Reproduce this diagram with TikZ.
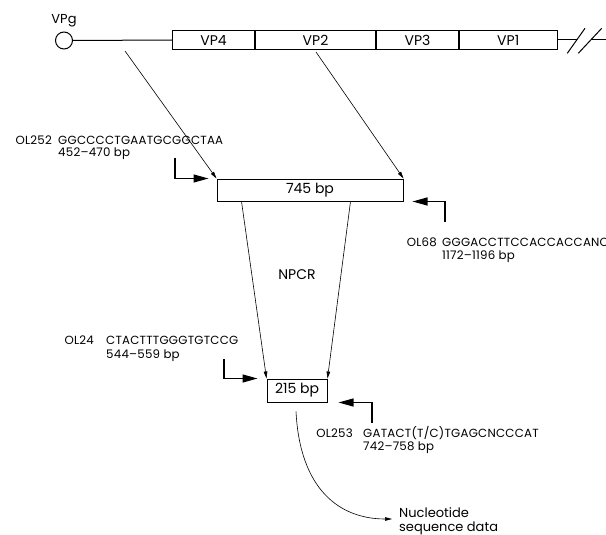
\documentclass[tikz,border=0pt]{standalone}
\usepackage{fontspec}
\setmainfont{Poppins}
\newfontfamily\seqfont{Poppins}[LetterSpace=2]
\usetikzlibrary{arrows.meta,calc}
\tikzset{
  gbox/.style={draw,line width=1pt,minimum height=19pt,inner sep=0pt,anchor=west,font=\fontsize{14}{16}\selectfont},
  pbox/.style={draw,line width=1pt,inner sep=0pt,font=\fontsize{14}{16}\selectfont},
  thinarrow/.style={line width=0.6pt,-{Triangle[length=7pt,width=3.6pt]}},
  primer/.style={line width=1.2pt,-{Triangle[length=15pt,width=8pt]}},
  ptext/.style={inner sep=0pt,anchor=base west,font=\seqfont\fontsize{11.8}{13}\selectfont},
  plabel/.style={ptext,anchor=base east},
  ltext/.style={inner sep=0pt,font=\fontsize{14}{16}\selectfont},
}
\begin{document}
\begin{tikzpicture}[x=1pt,y=-1pt]
\useasboundingbox (0,0) rectangle (606,535);
% genome
\node[draw,circle,line width=1pt,minimum size=17pt,inner sep=0pt] (vpg) at (64,40.5) {};
\node[ltext,font=\fontsize{13}{15}\selectfont] (vpgl) at (64,21) {VPg};
\node[gbox,minimum width=82pt] (vp4) at (172,40) {VP4};
\node[gbox,minimum width=120pt] (vp2) at (vp4.east) {VP2};
\node[gbox,minimum width=82pt] (vp3) at (vp2.east) {VP3};
\node[gbox,minimum width=97.5pt] (vp1) at (vp3.east) {VP1};
\draw[line width=1pt] (vpg.east) -- (vp4.west);
\coordinate (s1a) at (567.3,53.3);
\coordinate (s1b) at (585,28.3);
\coordinate (s2a) at (578.3,53.3);
\coordinate (s2b) at (601.7,28.3);
\coordinate (c1) at (576.7,40);
\coordinate (c2) at (590.7,40);
\coordinate (rend) at (606,40);
\draw[line width=1pt] (vp1.east) -- (c1);
\draw[line width=1pt] (c2) -- (rend);
\draw[line width=1pt] (s1a) -- (s1b);
\draw[line width=1pt] (s2a) -- (s2b);
% boxes
\node[pbox,minimum width=186pt,minimum height=22pt] (b745) at (310,190) {745 bp};
\node[pbox,minimum width=60pt,minimum height=23pt] (b215) at (297,390.5) {215 bp};
% arrows from genome
\coordinate (g4) at (125,51);
\coordinate (g2) at (316,52);
\draw[thinarrow] (g4) -- (b745.north west);
\draw[thinarrow] (g2) -- (b745.north east);
\coordinate (n1) at ($(b745.south west)+(25,0)$);
\coordinate (n2) at ($(b745.south west)+(134,0)$);
\draw[thinarrow] (n1) -- (b215.north west);
\draw[thinarrow] (n2) -- (b215.north east);
\node[ltext] (npcr) at (297,275) {NPCR};
% primers
\coordinate (p252) at (175,158);
\draw[primer] (p252) |- ($(b745.north west)+(-8,0)$);
\coordinate (p68) at (445,222);
\draw[primer] (p68) |- ($(b745.south east)+(9,0)$);
\coordinate (p24) at (224,359);
\draw[primer] (p24) |- ($(b215.north west)+(-9,0)$);
\coordinate (p253) at (372,423);
\draw[primer] (p253) |- ($(b215.south east)+(11,0)$);
% primer texts
\node[plabel] (l252) at (52,144) {OL252};
\node[ptext] (s252) at (58,144) {GGCCCCTGAATGCGGCTAA};
\node[ptext] (r252) at (58,157) {452–470 bp};
\node[plabel] (l68) at (437,246) {OL68};
\node[ptext] (s68) at (442,246) {GGGACCTTCCACCACCANCC};
\node[ptext] (r68) at (442,259) {1172–1196 bp};
\node[plabel] (l24) at (94,344.5) {OL24};
\node[ptext] (s24) at (106,344.5) {CTACTTTGGGTGTCCG};
\node[ptext] (r24) at (106,358) {544–559 bp};
\node[plabel] (l253) at (353,437) {OL253};
\node[ptext] (s253) at (363,437) {GATACT(T/C)TGAGCNCCCAT};
\node[ptext] (r253) at (363,450.5) {742–758 bp};
% output
\coordinate (cs) at ($(b215.south)+(-1,9)$);
\node[ltext,font=\fontsize{13}{14}\selectfont,anchor=base west,align=left] (nuc) at (399,531) {Nucleotide\\sequence data};
\draw[thinarrow] (cs) .. controls (300,490) and (340,519) .. (392,519);
\end{tikzpicture}
\end{document}
